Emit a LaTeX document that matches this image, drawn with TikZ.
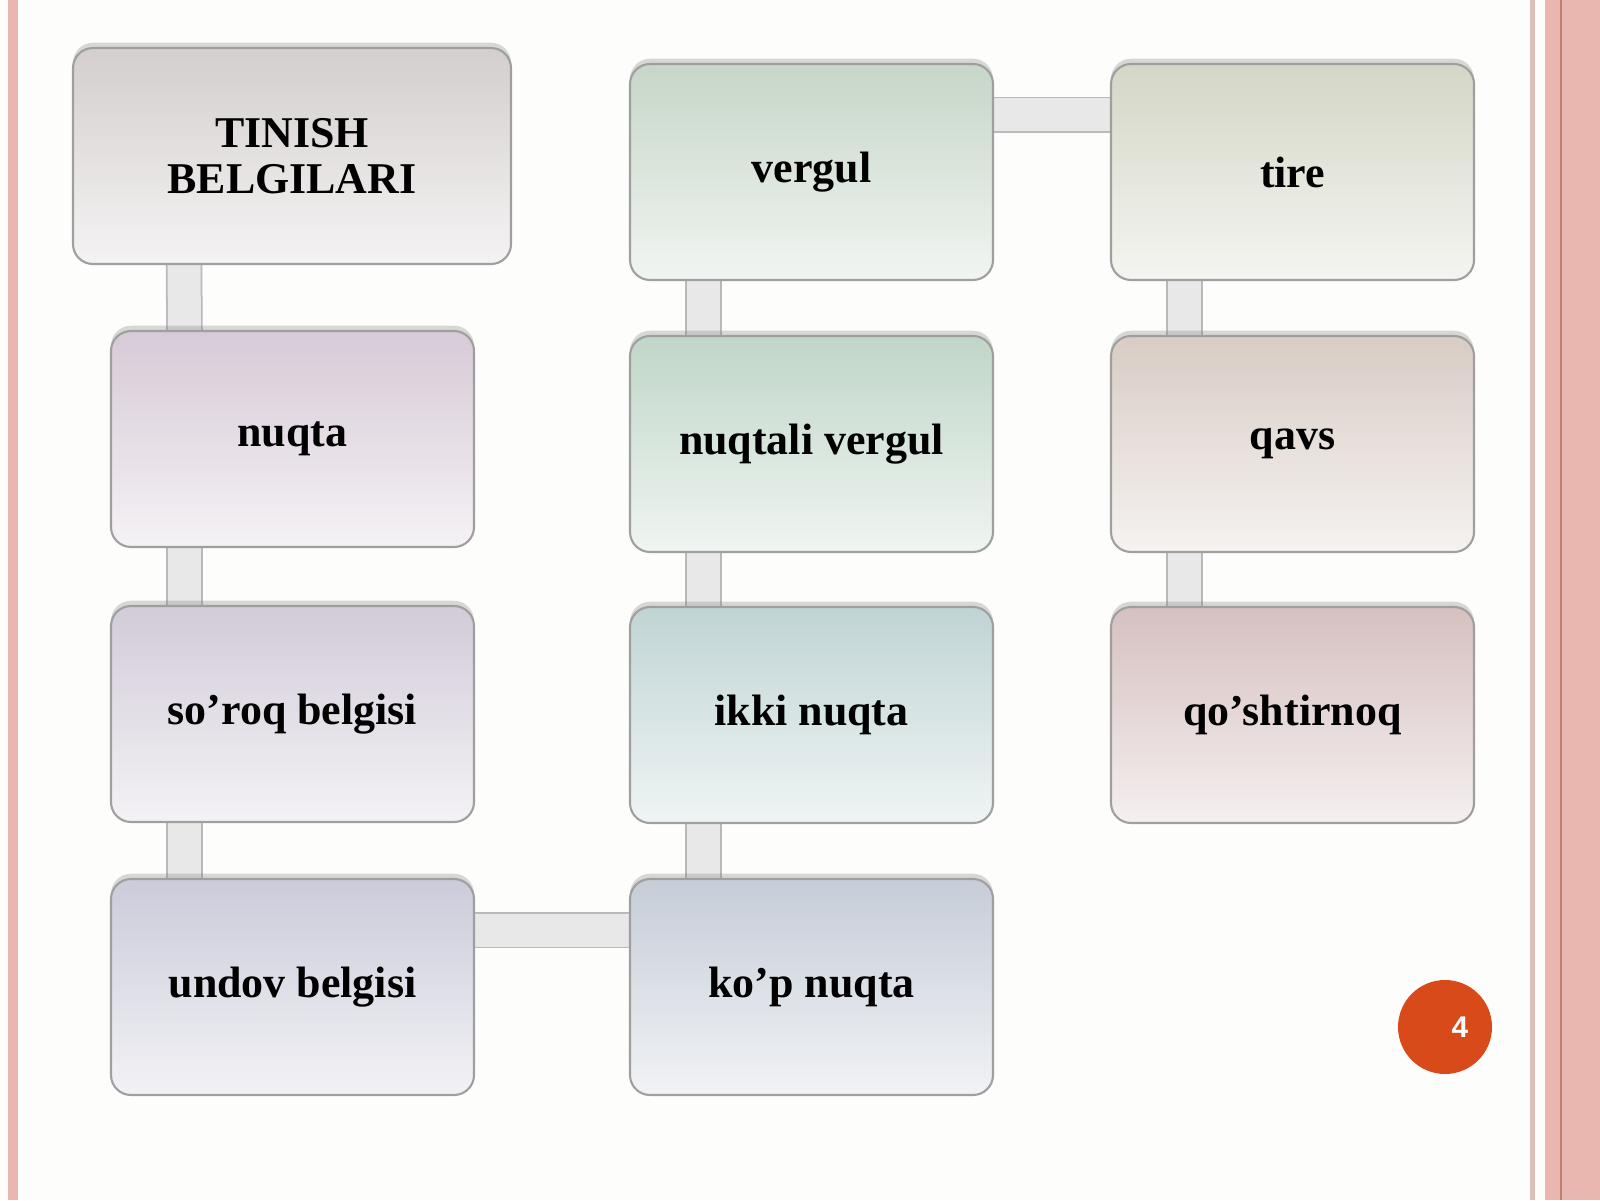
\documentclass[tikz,border=0pt]{standalone}
\usepackage{fontspec}
\setmainfont{Liberation Serif}
\setsansfont{Liberation Sans}
\usepackage{xcolor}
\usepackage{tikz}
\usetikzlibrary{shadows,backgrounds,calc}

\definecolor{pagebg}{RGB}{253,253,251}
\definecolor{edgepink}{RGB}{234,182,176}
\definecolor{edgeline}{RGB}{200,125,115}
\definecolor{edgethin}{RGB}{222,190,185}
\definecolor{numred}{RGB}{216,74,26}
\definecolor{linkgray}{RGB}{232,232,232}
\definecolor{c1}{RGB}{212,206,206}
\definecolor{c2}{RGB}{214,202,214}
\definecolor{c3}{RGB}{210,203,216}
\definecolor{c4}{RGB}{203,203,218}
\definecolor{c5}{RGB}{198,214,200}
\definecolor{c6}{RGB}{192,214,200}
\definecolor{c7}{RGB}{192,212,212}
\definecolor{c8}{RGB}{198,205,216}
\definecolor{c9}{RGB}{212,214,198}
\definecolor{c10}{RGB}{216,204,196}
\definecolor{c11}{RGB}{214,192,192}

\tikzset{
	box/.style={rectangle, rounded corners=0.2cm,
		minimum width=3.63cm, minimum height=2.16cm,
		draw=gray!75, line width=0.6pt,
		top color=#1, bottom color=#1!25!white,
		drop shadow={shadow xshift=0pt, shadow yshift=1.5pt, opacity=0.3},
		align=center, font=\bfseries\fontsize{12.5}{13}\selectfont},
	link/.style={draw=gray!55, line width=0.5pt,
		double=linkgray, double distance=0.33cm},
	pagenum/.style={circle, minimum size=0.94cm, fill=numred, inner sep=0pt}
}

\begin{document}
\begin{tikzpicture}
	\useasboundingbox (0,0) rectangle (16,12);
	\begin{pgfonlayer}{background}
		\fill[pagebg] (0,0) rectangle (16,12);
		\fill[edgepink] (0.08,0) rectangle (0.18,12);
		\fill[edgethin] (15.30,0) rectangle (15.35,12);
		\fill[edgepink] (15.45,0) rectangle (16,12);
		\fill[edgeline] (15.60,0) rectangle (15.62,12);
	\end{pgfonlayer}
	\node[box=c1, minimum width=4.38cm] (1) at (2.92,10.44) {TINISH\\BELGILARI};
	\node[box=c2] (2) at (2.925,7.61) {nuqta};
	\node[box=c3] (3) at (2.925,4.86) {so’roq belgisi};
	\node[box=c4] (4) at (2.925,2.13) {undov belgisi};
	\node[box=c5] (5) at (8.115,10.28) {vergul};
	\node[box=c6] (6) at (8.115,7.56) {nuqtali vergul};
	\node[box=c7] (7) at (8.115,4.85) {ikki nuqta};
	\node[box=c8] (8) at (8.115,2.13) {ko’p nuqta};
	\node[box=c9] (9) at (12.925,10.28) {tire};
	\node[box=c10] (10) at (12.925,7.56) {qavs};
	\node[box=c11] (11) at (12.925,4.85) {qo’shtirnoq};
	\node[pagenum] (12) at (14.45,1.73) {};
	\node[text=white, font=\sffamily\bfseries\fontsize{8.5}{9}\selectfont] (13) at ([xshift=1.5mm]12.center) {4};
	\begin{pgfonlayer}{background}
		\draw[link] ([xshift=-1.08cm]1.south) -- ([xshift=-1.08cm]2.north);
		\draw[link] ([xshift=-1.08cm]2.south) -- ([xshift=-1.08cm]3.north);
		\draw[link] ([xshift=-1.08cm]3.south) -- ([xshift=-1.08cm]4.north);
		\draw[link] ([yshift=0.57cm]4.east) -- ([yshift=0.57cm]8.west);
		\draw[link] ([xshift=-1.08cm]5.south) -- ([xshift=-1.08cm]6.north);
		\draw[link] ([xshift=-1.08cm]6.south) -- ([xshift=-1.08cm]7.north);
		\draw[link] ([xshift=-1.08cm]7.south) -- ([xshift=-1.08cm]8.north);
		\draw[link] ([yshift=0.57cm]5.east) -- ([yshift=0.57cm]9.west);
		\draw[link] ([xshift=-1.08cm]9.south) -- ([xshift=-1.08cm]10.north);
		\draw[link] ([xshift=-1.08cm]10.south) -- ([xshift=-1.08cm]11.north);
	\end{pgfonlayer}
\end{tikzpicture}
\end{document}
